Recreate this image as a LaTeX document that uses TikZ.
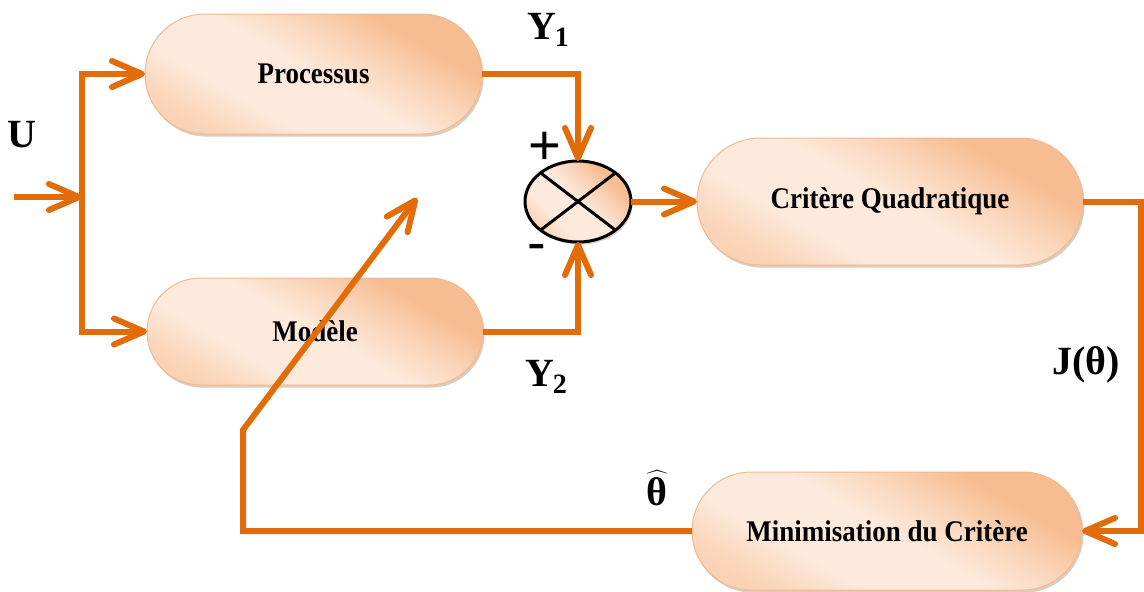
\documentclass[tikz,border=0pt]{standalone}
\usepackage{fontspec}
\setmainfont{Liberation Serif}
\newfontfamily\boxfont[FakeStretch=0.9]{Liberation Serif}
\newfontfamily\signfont{Liberation Sans}
\usetikzlibrary{arrows.meta,shapes.geometric,shadows}

\definecolor{wire}{HTML}{E36C0A}
\definecolor{peachdark}{HTML}{F7BD92}
\definecolor{peachmid}{HTML}{FAD6BB}
\definecolor{peachlight}{HTML}{FDEADC}
\definecolor{peachedge}{HTML}{F3B88E}

% pale band across the middle, deeper tone toward the upper right
\pgfdeclarehorizontalshading{peach}{100bp}{%
  color(0bp)=(peachdark); color(26bp)=(peachmid); color(36bp)=(peachlight);
  color(50bp)=(peachlight); color(60bp)=(peachmid); color(70bp)=(peachdark);
  color(100bp)=(peachdark)}

\tikzset{
  x=0.5pt, y=-0.5pt,
  wireline/.style={draw=wire, line width=3pt},
  arr/.style={wireline, -{Straight Barb[length=15pt,width=13pt,round]}},
  pill/.style={draw=peachedge, line width=0.5pt, shading=peach, shading angle=60,
    rounded corners=#1, inner sep=0pt, outer sep=0pt,
    drop shadow={shadow xshift=0.8pt, shadow yshift=-1.3pt, fill=brown!70!black, opacity=0.3},
    font=\boxfont\bfseries\fontsize{15}{18}\selectfont},
  sumnode/.style={ellipse, draw=black, line width=1.5pt, shading=peach, shading angle=45,
    minimum width=53pt, minimum height=40.5pt, inner sep=0pt, outer sep=0pt,
    drop shadow={shadow xshift=0.8pt, shadow yshift=-1.3pt, fill=brown!70!black, opacity=0.3}},
  sig/.style={font=\bfseries\fontsize{20}{24}\selectfont, inner sep=0pt},
  signs/.style={font=\signfont\fontsize{28}{30}\selectfont, inner sep=0pt}
}

\begin{document}
\begin{tikzpicture}
\useasboundingbox (0,0) rectangle (1144,591);

% blocks
\node[pill=30pt, minimum width=168.5pt, minimum height=60pt] (proc) at (313.5,74) {Processus};
\node[pill=26.75pt, minimum width=168pt, minimum height=53.5pt] (model) at (315,331.5) {Modèle};
\node[pill=31.75pt, minimum width=193pt, minimum height=63.5pt] (crit) at (890,201.5) {Critère Quadratique};
\node[pill=29.5pt, minimum width=195pt, minimum height=59pt] (mini) at (887,531) {Minimisation du Critère};

% summing junction
\node[sumnode] (sum) at (578,201.5) {};
\draw[line width=1.5pt] (sum.north west) -- (sum.south east);
\draw[line width=1.5pt] (sum.north east) -- (sum.south west);

% input and its split
\coordinate (uin) at (14,197);
\coordinate (split) at (82,197);
\draw[arr] (uin) -- (split);
\draw[arr] (split) |- (proc.west);
\draw[arr] (split) |- (model.west);

% outputs into the comparator
\draw[arr] (proc.east) -| (sum.north);
\draw[arr] (model.east) -| (sum.south);
\draw[arr] (sum.east) -- (crit.west);

% criterion to minimisation
\coordinate (fb) at (1141,365);
\draw[arr] (crit.east) -| (fb) |- (mini.east);

% parameter adjustment path
\coordinate (knee) at (243,430);
\coordinate (adj) at (417,198);
\draw[arr, line join=miter] (mini.west) -| (knee) -- (adj);

% labels
\node[sig] (lu) at (22,135) {U};
\node[sig] (ly1) at (548,30) {Y\kern-0.5pt\raisebox{-0.35ex}{\fontsize{14}{16}\selectfont 1}};
\node[sig] (ly2) at (546,377) {Y\kern-0.5pt\raisebox{-0.35ex}{\fontsize{14}{16}\selectfont 2}};
\node[sig] (lj) at (1086,365) {J(θ)};
\node[sig] (lth) at (657,488) {$\widehat{\mbox{\bfseries θ}}$};
\node[signs] (plus) at (545,148) {+};
\node[signs] (minus) at (537,253) {-};
\end{tikzpicture}
\end{document}
